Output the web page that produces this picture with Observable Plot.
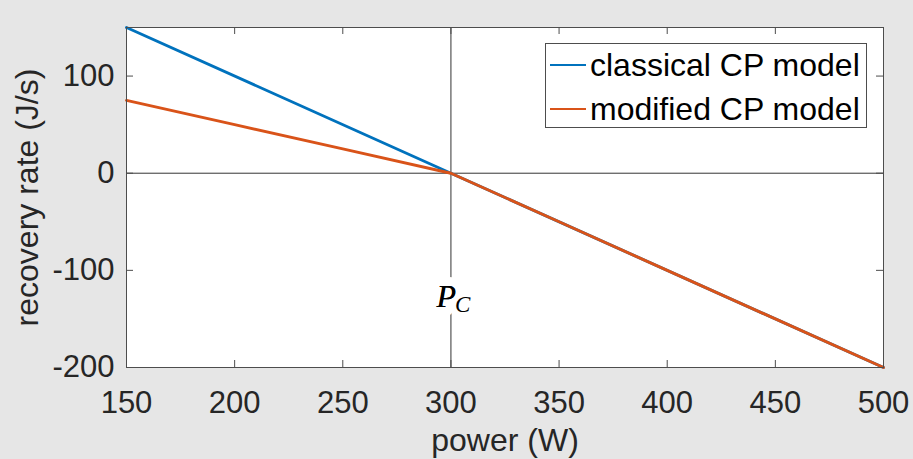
<!DOCTYPE html>
<html><head><meta charset="utf-8">
<script src="https://cdn.jsdelivr.net/npm/d3@7"></script>
<script src="https://cdn.jsdelivr.net/npm/@observablehq/plot@0.6"></script>
<style>
html,body{margin:0;padding:0;background:#e6e6e6;}
#wrap{position:relative;width:913px;height:459px;overflow:hidden;font-family:"Liberation Sans",Arial,sans-serif;}
#legend{position:absolute;left:545px;top:43px;width:322px;height:85px;background:#fff;border:1px solid #4d4d4d;box-sizing:border-box;}
.row{position:absolute;left:0;height:44px;display:flex;align-items:center;}
.sw{width:36px;height:0;border-top:2.8px solid;margin-left:4px;margin-right:4px;}
.lab{font-size:32px;color:#000;white-space:nowrap;line-height:44px;}
</style></head><body><div id="wrap"></div>
<script>
// data
const powerClassical = [150, 300, 500];
const rateClassical = [150, 0, -200];
const powerModified = [150, 200, 250, 300, 350, 400, 450, 500];
const rateModified = [75, 50, 25, 0, -50, -100, -150, -200];
const seriesNames = ["classical CP model", "modified CP model"];
const seriesColors = ["#0072BD", "#D95319"];
const xTicks = [150, 200, 250, 300, 350, 400, 450, 500];
const yTicks = [-200, -100, 0, 100];
const xDomain = [150, 500];
const yDomain = [-200, 150];
const criticalPower = [300];
const pcLabelRate = [-127];
const xLabel = "power (W)";
const yLabel = "recovery rate (J/s)";

const classical = powerClassical.map((p, i) => ({power: p, rate: rateClassical[i]}));
const modified = powerModified.map((p, i) => ({power: p, rate: rateModified[i]}));
const pcData = criticalPower.map((p, i) => ({power: p, rate: pcLabelRate[i]}));

const axisColor = "#4d4d4d";
const serif = "'Liberation Serif', 'DejaVu Serif', serif";
const plot = Plot.plot({
  width: 913, height: 459,
  marginLeft: 126, marginRight: 30, marginTop: 27, marginBottom: 92,
  style: {background: "transparent", fontFamily: "'Liberation Sans', Arial, sans-serif", color: "#262626"},
  x: {domain: xDomain, ticks: xTicks, label: null},
  y: {domain: yDomain, ticks: yTicks, label: null},
  marks: [
    Plot.frame({fill: "white", stroke: null}),
    Plot.ruleY([0], {stroke: "#333", strokeWidth: 1}),
    Plot.ruleX(criticalPower, {stroke: "#333", strokeWidth: 1}),
    Plot.text(pcData, {x: "power", y: "rate", text: () => "P", textAnchor: "end", dx: 5, fontSize: 32,
      fontFamily: serif, fontStyle: "italic", fill: "#000", stroke: "white", strokeWidth: 18}),
    Plot.text(pcData, {x: "power", y: "rate", text: () => "P", textAnchor: "end", dx: 5, fontSize: 32,
      fontFamily: serif, fontStyle: "italic", fill: "#000"}),
    Plot.text(pcData, {x: "power", y: "rate", text: () => "C", textAnchor: "start", dx: 4, dy: 8, fontSize: 23,
      fontFamily: serif, fontStyle: "italic", fill: "#000"}),
    Plot.line(classical, {x: "power", y: "rate", stroke: seriesColors[0], strokeWidth: 2.9}),
    Plot.line(modified, {x: "power", y: "rate", stroke: seriesColors[1], strokeWidth: 2.9}),
    Plot.frame({stroke: axisColor, strokeWidth: 1}),
    Plot.ruleX(xTicks, {y1: yDomain[0], y2: yDomain[0], insetBottom: 7, stroke: axisColor}),
    Plot.ruleX(xTicks, {y1: yDomain[1], y2: yDomain[1], insetTop: 7, stroke: axisColor}),
    Plot.ruleY(yTicks, {x1: xDomain[0], x2: xDomain[0], insetLeft: 7, stroke: axisColor}),
    Plot.ruleY(yTicks, {x1: xDomain[1], x2: xDomain[1], insetRight: 7, stroke: axisColor}),
    Plot.axisX({ticks: xTicks, tickSize: 0, tickPadding: 23, fontSize: 31, label: null, fill: "#262626",
      tickFormat: d => String(d)}),
    Plot.axisY({ticks: yTicks, tickSize: 0, tickPadding: 12, fontSize: 31, label: null, fill: "#262626",
      tickFormat: d => String(d)}),
    Plot.text([xLabel], {frameAnchor: "bottom", textAnchor: "middle", lineAnchor: "middle", dy: 73,
      fontSize: 32, fill: "#262626"}),
    Plot.text([yLabel], {frameAnchor: "left", textAnchor: "middle", lineAnchor: "middle", dx: -99,
      rotate: -90, fontSize: 32, fill: "#262626"})
  ]
});
const wrap = document.getElementById("wrap");
wrap.appendChild(plot);

const legend = document.createElement("div");
legend.id = "legend";
seriesNames.forEach((name, i) => {
  const row = document.createElement("div");
  row.className = "row";
  row.style.top = (-1 + i * 44) + "px";
  const sw = document.createElement("div");
  sw.className = "sw";
  sw.style.borderTopColor = seriesColors[i];
  const lab = document.createElement("span");
  lab.className = "lab";
  lab.textContent = name;
  row.appendChild(sw); row.appendChild(lab);
  legend.appendChild(row);
});
wrap.appendChild(legend);
</script></body></html>
